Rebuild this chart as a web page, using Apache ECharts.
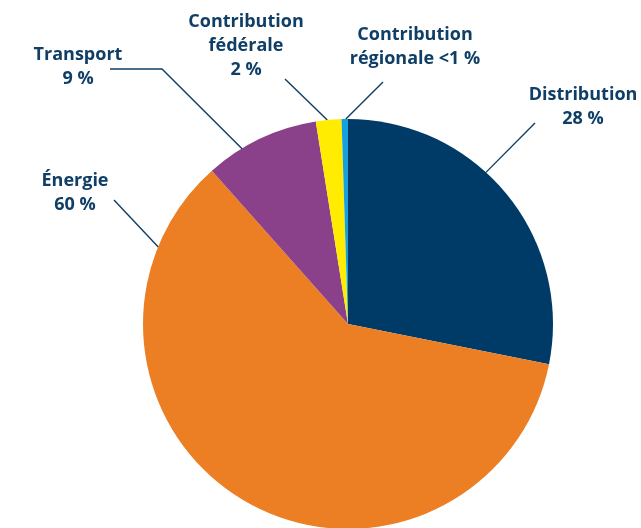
<!DOCTYPE html>
<html>
<head>
<meta charset="utf-8">
<script src="https://cdn.jsdelivr.net/npm/echarts@6/dist/echarts.min.js"></script>
<style>
  html, body { margin: 0; padding: 0; background: #ffffff; }
  #chart { width: 641px; height: 528px; }
</style>
</head>
<body>
<div id="chart"></div>
<script>
// Répartition de la facture
const categories = ['Distribution', 'Énergie', 'Transport', 'Contribution fédérale', 'Contribution régionale'];
const values = [28, 60, 9, 2, 0.5];
const labelTexts = ['Distribution\n28 %', 'Énergie\n60 %', 'Transport\n9 %', 'Contribution\nfédérale\n2 %', 'Contribution\nrégionale <1 %'];
const colors = ['#003b68', '#ec7f24', '#8a4189', '#ffec00', '#16a1dd'];

const pieCenter = [348, 324];
const pieRadius = 205;

// centre of each text block
const labelAnchors = [
  [583, 107],
  [75, 193],
  [78, 67],
  [246, 46],
  [415, 47]
];

// leader lines: [angle on the rim (deg, clockwise from 12 o'clock), radius factor, then polyline points towards the text]
const leaderGuides = [
  [42.3, 1.0, [[535, 123]]],
  [291.7, 0.985, [[114, 200]]],
  [329.4, 0.96, [[162, 69], [110, 69]]],
  [354.2, 1.0, [[285, 79]]],
  [359.4, 1.0, [[383, 82]]]
];

const textColor = '#0f3e66';

function rimPoint(angleDeg, factor) {
  const a = angleDeg * Math.PI / 180;
  const r = pieRadius * factor;
  return [pieCenter[0] + r * Math.sin(a), pieCenter[1] - r * Math.cos(a)];
}

const chart = echarts.init(document.getElementById('chart'), null, { renderer: 'canvas' });

chart.setOption({
  animation: false,
  backgroundColor: '#ffffff',
  series: [{
    type: 'pie',
    center: pieCenter,
    radius: pieRadius,
    startAngle: 90,
    clockwise: true,
    avoidLabelOverlap: false,
    silent: true,
    data: categories.map((name, i) => ({
      name: name,
      value: values[i],
      itemStyle: { color: colors[i] },
      label: { formatter: labelTexts[i] }
    })),
    label: {
      show: true,
      position: 'outside',
      color: textColor,
      fontFamily: '"Open Sans", sans-serif',
      fontWeight: 'bold',
      fontSize: 18,
      lineHeight: 24,
      align: 'center'
    },
    labelLine: {
      show: true,
      length: 20,
      length2: 10,
      lineStyle: { color: textColor, width: 1.4 }
    },
    labelLayout: function (params) {
      const i = params.dataIndex;
      const p = labelAnchors[i];
      const g = leaderGuides[i];
      const pts = [rimPoint(g[0], g[1])].concat(g[2]);
      return {
        x: p[0],
        y: p[1],
        align: 'center',
        verticalAlign: 'middle',
        labelLinePoints: pts
      };
    }
  }]
});
</script>
</body>
</html>
